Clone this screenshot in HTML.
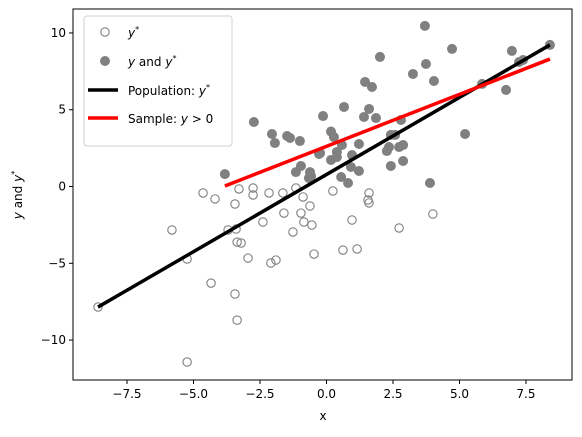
<!DOCTYPE html>
<html><head><meta charset="utf-8"><style>
body{margin:0;background:#fff;font-family:"Liberation Sans","DejaVu Sans",sans-serif}
text{font-family:"DejaVu Sans","Liberation Sans",sans-serif}
</style></head><body>
<svg id="chart" width="582" height="432"></svg>
<script>
const xTicks=[-7.5,-5.0,-2.5,0.0,2.5,5.0,7.5];
const xTickLabels=["−7.5","−5.0","−2.5","0.0","2.5","5.0","7.5"];
const yTicks=[-10,-5,0,5,10];
const yTickLabels=["−10","−5","0","5","10"];
const latentX=[-8.59,-5.24,-5.81,-5.24,-4.64,-4.19,-4.34,-3.44,-3.36,-3.70,-3.40,-3.44,-3.29,-2.76,-2.76,-3.36,-3.21,-2.95,-2.39,-2.16,-1.64,-1.60,-2.09,-1.90,-1.26,-1.15,-0.88,-0.96,-0.62,-0.85,-0.55,-0.47,0.24,1.60,1.56,1.60,0.96,0.62,1.15,2.73,4.00];
const latentY=[-7.85,-11.43,-2.83,-4.72,-0.42,-0.81,-6.29,-7.00,-8.70,-2.83,-2.77,-1.14,-0.16,-0.10,-0.55,-3.62,-3.68,-4.66,-2.31,-0.42,-0.42,-1.73,-4.98,-4.79,-2.96,-0.10,-0.68,-1.73,-1.27,-2.31,-2.51,-4.40,-0.29,-0.42,-0.88,-1.07,-2.18,-4.14,-4.07,-2.70,-1.79];
const obsX=[-3.82,-2.73,-2.05,-1.94,-1.48,-1.37,-1.00,-1.15,-0.96,-0.62,-0.58,-0.24,3.70,4.72,2.01,3.74,3.25,4.04,1.45,1.71,0.66,-0.13,1.60,1.41,1.86,2.80,0.17,0.28,2.42,2.58,0.58,1.22,-0.28,0.39,0.96,2.35,2.27,2.73,2.88,0.17,0.39,0.92,1.22,-0.66,0.55,0.81,2.42,2.88,3.89,5.21,5.85,6.75,6.97,7.24,7.39,8.40];
const obsY=[0.81,4.20,3.42,2.83,3.29,3.16,2.96,0.94,1.34,0.94,0.68,2.18,10.46,8.96,8.44,7.98,7.33,6.87,6.81,6.48,5.18,4.59,5.05,4.53,4.46,4.33,3.58,3.22,3.36,3.36,2.70,2.77,2.12,2.25,2.05,2.57,2.31,2.57,2.70,1.73,1.92,1.27,1.01,0.55,0.62,0.23,1.34,1.66,0.23,3.42,6.68,6.29,8.83,8.11,8.24,9.22];
const popLineX=[-8.59,8.40];
const popLineY=[-7.85,9.22];
const sampLineX=[-3.82,8.40];
const sampLineY=[0.03,8.30];

const L=73,R=572,T=9,B=380;
const xMin=-9.53,xMax=9.23,yMin=-12.6,yMax=11.56;
const sx=v=>L+(v-xMin)/(xMax-xMin)*(R-L);
const sy=v=>B-(v-yMin)/(yMax-yMin)*(B-T);
const NS="http://www.w3.org/2000/svg";
const svg=document.getElementById('chart');
function mk(tag,attrs,parent){const e=document.createElementNS(NS,tag);for(const k in attrs)e.setAttribute(k,attrs[k]);(parent||svg).appendChild(e);return e;}

for(let i=0;i<latentX.length;i++){
  const c=mk('circle',{cx:sx(latentX[i]),cy:sy(latentY[i]),r:4.2,fill:'none',stroke:'#808080','stroke-width':1.1});
  
  
}
for(let i=0;i<obsX.length;i++){
  const c=mk('circle',{cx:sx(obsX[i]),cy:sy(obsY[i]),r:5,fill:'#808080'});
  
  
}
const pl=mk('line',{x1:sx(popLineX[0]),y1:sy(popLineY[0]),x2:sx(popLineX[1]),y2:sy(popLineY[1]),stroke:'#000','stroke-width':3.5});


const sl=mk('line',{x1:sx(sampLineX[0]),y1:sy(sampLineY[0]),x2:sx(sampLineX[1]),y2:sy(sampLineY[1]),stroke:'#ff0000','stroke-width':3.5});



const frame=mk('rect',{x:L,y:T,width:R-L,height:B-T,fill:'none',stroke:'#000','stroke-width':1});


for(let i=0;i<xTicks.length;i++){
  const x=sx(xTicks[i]);
  mk('line',{x1:x,y1:B,x2:x,y2:B+4,stroke:'#000'});
  const t=mk('text',{x:x,y:B+18,'text-anchor':'middle','font-size':12});
  t.textContent=xTickLabels[i];
  
  
}
for(let i=0;i<yTicks.length;i++){
  const y=sy(yTicks[i]);
  mk('line',{x1:L-4,y1:y,x2:L,y2:y,stroke:'#000'});
  const t=mk('text',{x:L-7,y:y+4,'text-anchor':'end','font-size':12});
  t.textContent=yTickLabels[i];
  
  
}
</script>
<svg width="582" height="432" style="position:absolute;left:0;top:0">
<text x="323" y="420" text-anchor="middle" font-size="12" font-family="DejaVu Sans">x</text>
<text transform="translate(22,195) rotate(-90)" text-anchor="middle" font-size="12" font-family="DejaVu Sans"><tspan font-style="italic">y</tspan> and <tspan font-style="italic">y</tspan><tspan dy="-5" font-size="8">*</tspan></text>
<g font-family="DejaVu Sans" font-size="12">
<rect x="84" y="16" width="148" height="130" rx="3" fill="#fff" fill-opacity="0.85" stroke="#d0d0d0"/>
<circle cx="105" cy="32" r="4.2" fill="none" stroke="#808080" stroke-width="1.1"/>
<text x="128" y="37"><tspan font-style="italic">y</tspan><tspan dy="-5" font-size="8">*</tspan></text>
<circle cx="105" cy="61" r="5" fill="#808080"/>
<text x="128" y="66"><tspan font-style="italic">y</tspan> and <tspan font-style="italic">y</tspan><tspan dy="-5" font-size="8">*</tspan></text>
<line x1="88" y1="90" x2="118" y2="90" stroke="#000" stroke-width="3.5"/>
<text x="128" y="95">Population: <tspan font-style="italic">y</tspan><tspan dy="-5" font-size="8">*</tspan></text>
<line x1="88" y1="118" x2="118" y2="118" stroke="#ff0000" stroke-width="3.5"/>
<text x="128" y="123">Sample: <tspan font-style="italic">y</tspan> &gt; 0</text>
</g>
</svg>
</body></html>
